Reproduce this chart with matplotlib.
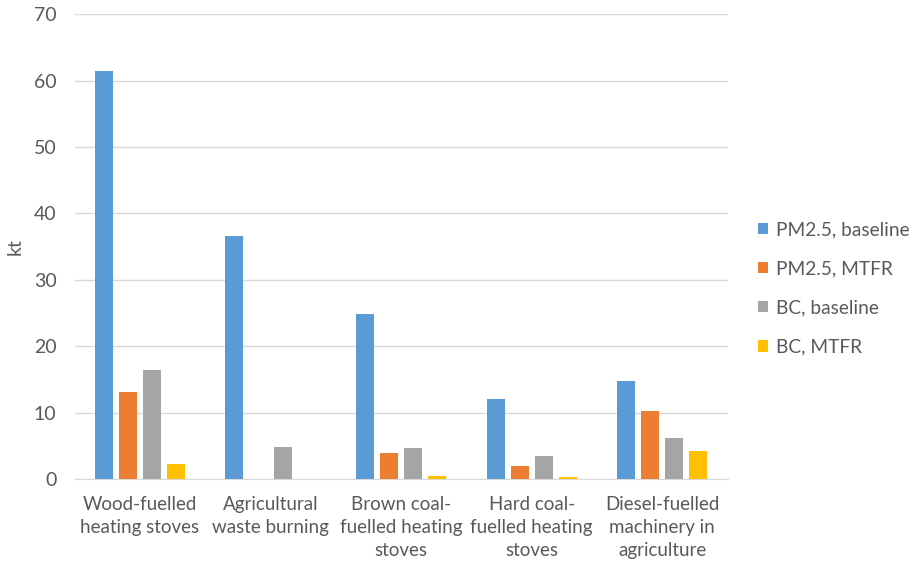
import numpy as np
import matplotlib
matplotlib.use("Agg")
from matplotlib import pyplot as plt

categories = ["Wood-fuelled\nheating stoves", "Agricultural\nwaste burning",
              "Brown coal-\nfuelled heating\nstoves", "Hard coal-\nfuelled heating\nstoves",
              "Diesel-fuelled\nmachinery in\nagriculture"]
pm25_baseline = [61.5, 36.6, 24.8, 12.1, 14.7]
pm25_mtfr = [13.1, 0.0, 3.9, 1.9, 10.2]
bc_baseline = [16.4, 4.8, 4.7, 3.5, 6.2]
bc_mtfr = [2.3, 0.0, 0.4, 0.3, 4.2]
series_names = ["PM2.5, baseline", "PM2.5, MTFR", "BC, baseline", "BC, MTFR"]
colors = ["#5b9bd5", "#ed7d31", "#a5a5a5", "#ffc000"]

plt.rcParams['font.family'] = ['Lato', 'DejaVu Sans']
txt = "#595959"

fig = plt.figure(figsize=(9.21, 5.65), dpi=100)
ax = fig.add_axes([0.081, 0.152, 0.709, 0.823])

x = np.arange(len(categories))
w = 0.138
step = 0.184
for k, (vals, name, c) in enumerate(zip([pm25_baseline, pm25_mtfr, bc_baseline, bc_mtfr], series_names, colors)):
	ax.bar(x + (k - 1.5)*step, vals, width=w, color=c, label=name, zorder=3)

ax.set_xlim(-0.5, len(categories) - 0.5)
ax.set_ylim(0, 70)
ax.set_yticks(range(0, 71, 10))
ax.set_xticks(x)
ax.set_xticklabels(categories, fontsize=13.5, color=txt, linespacing=1.45)
ax.tick_params(axis='y', labelsize=14, labelcolor=txt, length=0, pad=13)
ax.tick_params(axis='x', length=0, pad=12)
ax.grid(axis='y', color="#d9d9d9", linewidth=1, zorder=0)
for s in ['top', 'right', 'left']:
	ax.spines[s].set_visible(False)
ax.spines['bottom'].set_color("#d9d9d9")
ax.set_ylabel("kt", fontsize=14, color=txt)
ax.yaxis.set_label_coords(-0.078, 0.5)

ax.legend(loc='center left', bbox_to_anchor=(1.02, 0.41), frameon=False,
	fontsize=13.8, labelcolor=txt, handlelength=0.55, handleheight=0.55,
	handletextpad=0.4, labelspacing=1.15)

plt.savefig("out.png", dpi=100)
